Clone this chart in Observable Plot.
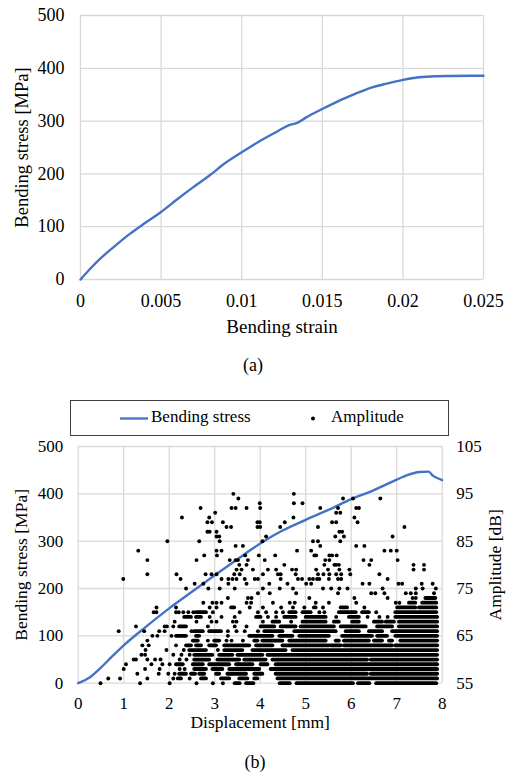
<!DOCTYPE html>
<html><head><meta charset="utf-8">
<script src="https://cdn.jsdelivr.net/npm/d3@7"></script>
<script src="https://cdn.jsdelivr.net/npm/@observablehq/plot@0.6"></script>
<style>
body{margin:0;background:#fff;}
#page{position:relative;width:507px;height:775px;background:#fff;font-family:"Liberation Serif","Times New Roman",serif;color:#000;}
#page svg, #page svg text, #page svg g{font-family:"Liberation Serif","Times New Roman",serif !important;}
.abs{position:absolute;}
.cap{position:absolute;font-size:18px;transform:translate(-50%,-50%);white-space:nowrap;}
#legend{position:absolute;left:70px;top:400px;width:377px;height:34px;border:1px solid #404040;font-size:17px;}
</style></head>
<body><div id="page">
<div id="chartA" class="abs" style="left:0;top:0"></div>
<div class="cap" style="left:253px;top:365px">(a)</div>
<div id="legend">
  <svg width="377" height="34" style="position:absolute;left:0;top:0">
    <line x1="49" x2="77" y1="17.5" y2="17.5" stroke="#4472C4" stroke-width="2.3"/>
    <circle cx="242" cy="17.5" r="2" fill="#000"/>
  </svg>
  <span class="abs" style="left:80px;top:6px">Bending stress</span>
  <span class="abs" style="left:260px;top:6px">Amplitude</span>
</div>
<div id="chartB1" class="abs" style="left:0;top:440px"></div>
<div id="chartB2" class="abs" style="left:0;top:440px"></div>
<div class="cap" style="left:255px;top:762px">(b)</div>
</div>
<script>
// ---------- (a) Bending stress vs bending strain ----------
const strainValues = [0, 0.0005, 0.001, 0.002, 0.003, 0.004, 0.005, 0.006, 0.007, 0.008, 0.009, 0.010, 0.011, 0.012, 0.013, 0.0134, 0.014, 0.015, 0.016, 0.017, 0.018, 0.019, 0.020, 0.021, 0.022, 0.023, 0.025];
const stressValuesA = [0, 17, 33, 60, 85, 107, 128, 152, 175, 197, 221, 241, 260, 277, 293, 296, 307, 323, 338, 351, 363, 371, 378, 383, 385, 385.5, 386];
const strainTicks = [0, 0.005, 0.01, 0.015, 0.02, 0.025];
const strainTickLabels = ["0", "0.005", "0.01", "0.015", "0.02", "0.025"];
const stressTicks = [0, 100, 200, 300, 400, 500];

// ---------- (b) Bending stress vs displacement ----------
const dispValues = [0, 0.25, 0.5, 0.75, 1.0, 1.5, 2.0, 2.5, 3.0, 3.5, 4.0, 4.5, 5.0, 5.5, 6.0, 6.5, 6.75, 7.0, 7.25, 7.5, 7.7, 7.8, 7.9, 8.0];
const stressValuesB = [0, 12, 33, 57, 80, 120, 158, 193, 228, 262, 295, 323, 345, 366, 389, 408, 419, 430, 440, 446, 447, 438, 433, 429];
const dispTicks = [0, 1, 2, 3, 4, 5, 6, 7, 8];
const ampTicks = [55, 65, 75, 85, 95, 105];

// AE amplitude hits: [amplitude dB, displacement positions (single hits) or runs "start-end" of contiguous hits]
const ampRows = [
  [55, "0.49 1.36 2.01 2.60 2.96 3.18 3.45-3.56 3.70-3.86 4.44-4.66 4.81-6.05 6.16-6.41 6.56-7.88"],
  [56, "0.66 0.92 1.52 2.09 2.20-2.27 2.45 2.71-2.82 3.15-3.33 3.55-3.73 3.88-3.95 4.39-7.90"],
  [57, "1.30 1.77 1.98 2.12 2.23-2.38 2.49-2.58 2.67-2.78 3.04-3.11 3.29-3.70 3.88-4.06 4.35-6.36 6.44-7.90"],
  [58, "1.00 1.47 1.79 2.23 2.34 2.56-2.82 2.96-3.18 3.33-3.99 4.24-7.90"],
  [59, "1.05 1.61 1.85 2.01 2.16-2.31 2.53-2.75 2.89-3.33 3.48-3.84 4.02-4.17 4.35-7.90"],
  [60, "1.22 1.27 1.52 1.69 1.81 2.23 2.38 2.56-2.89 3.07-3.55 3.66-4.13 4.28-6.36 6.44-7.90"],
  [61, "1.39 1.47 2.09 2.27 2.45 2.56-2.96 3.11-3.40 3.51-4.06 4.17-7.90"],
  [62, "1.48 1.94 2.32 2.45-2.82 3.07 3.22-3.62 3.84-4.57 4.72-7.90"],
  [63, "1.41 1.55 2.15 2.38-2.49 2.60-2.71 2.89-3.04 3.22-3.77 3.92-4.28 4.50-5.52 5.56-5.78 5.85-6.91 6.98-7.90"],
  [64, "1.52 2.53-2.64 2.85 3.00-3.11 3.26 3.37 3.62 3.88-3.95 4.06-4.50 4.65-5.45 5.67-5.74 5.85-6.40 6.51-6.69 6.84-6.91 7.09-7.90"],
  [65, "1.63 1.74 2.05 2.16-2.38 2.60-2.67 3.29 3.77-4.28 4.43-4.72 4.87-5.52 5.81-6.47 6.58-6.80 6.98-7.90"],
  [66, "0.89 1.45 1.78 1.90 2.49 2.56-2.75 2.89-3.15 3.29 3.48 3.66 3.95 4.10-4.50 4.76-5.67 5.89-6.18 6.40-6.69 6.91-7.90"],
  [67, "1.27 1.90 1.95 2.09 2.23-2.38 2.85 3.44 3.70 4.02-4.32 4.46-4.79 4.90-5.63 5.78-6.33 6.58-6.91 7.06-7.90"],
  [68, "2.12 2.60 2.93 3.04 3.40 3.48 4.06 4.28-4.43 4.68 4.94-5.45 5.63-5.74 6.03-6.18 6.51-6.69 6.77-6.95 7.06-7.90"],
  [69, "2.34-2.49 2.60-2.71 2.89 3.15 3.44 3.92-4.02 4.17 4.35 4.54-4.79 5.01-5.45 5.67 5.96-6.18 6.36 6.62 6.80 6.98-7.90"],
  [70, "1.66 1.72 2.15 2.21 2.31 2.42 2.53 2.60-2.82 2.96 3.55 3.95 4.13 4.35 4.50 4.65-4.79 4.94-5.12 5.30 5.41 5.74-6.11 6.25-6.40 6.55 6.98-7.88"],
  [71, "1.72 2.15 2.89 3.04 3.37-3.44 3.77 4.06 4.46 4.72 4.97 5.19-5.23 5.38 5.78-5.92 6.29 7.02-7.42 7.50-7.88"],
  [72, "2.75 2.95 3.04 3.15 3.70 3.80 4.28 4.65 4.76 5.22 5.51 6.11 6.98 7.06 7.28-7.42 7.57-7.88"],
  [73, "3.29 3.73 3.81 5.08 6.07 6.80 7.35 7.42 7.64-7.86"],
  [74, "3.95 4.21 4.79 5.71 6.44 6.53 6.73 7.20 7.31 7.42 7.82"],
  [75, "2.37 2.86 3.11 3.44 4.06 4.43 4.72 5.38 5.56 5.74 5.92 6.69 7.42 7.57 7.86"],
  [76, "2.56 2.75 3.30 3.70 4.20 4.60 5.01 5.12 6.25 6.40 7.04 7.12 7.55 7.79"],
  [77, "0.99 2.25 3.15 3.30 3.39 3.48 3.66 3.88 3.95 4.45 4.83 4.92 5.08 5.16 5.25 5.30 5.51 5.71 5.78 6.80"],
  [78, "1.52 2.16 2.80 2.93 3.04 3.43 3.55 4.06 4.39 4.45 4.78 5.27 5.39 5.52 5.67 5.78 5.98 6.62"],
  [79, "3.48 3.59 3.84 4.17 4.35 4.70 4.79 5.23 5.49 5.74 5.96 7.37 7.60"],
  [80, "3.54 3.70 4.53 5.41 5.63 5.67 5.73 6.40 7.37 7.60"],
  [81, "1.52 2.60 3.33 3.46 3.51 3.73 4.10 5.43 5.52 6.27 6.44 7.02"],
  [82, "2.77 3.05 3.67 3.97 4.33 5.19 5.23 5.52 5.58 5.68"],
  [83, "1.32 3.04 3.15 4.81 5.12 6.73 6.87 7.00"],
  [84, "3.46 3.62 5.32 6.11 6.29"],
  [85, "1.96 2.66 3.11 4.05 5.16 5.27 5.76"],
  [86, "3.04 3.10 4.13 5.65 5.84 6.91"],
  [87, "2.84 2.89 3.04 5.74 5.80"],
  [88, "3.26 3.36 3.94 4.00 4.44 5.27 7.17"],
  [89, "2.84 2.94 3.18 3.94 3.99 4.54 5.58 5.67 6.14"],
  [90, "2.28 2.88 4.73 6.07"],
  [91, "3.01 5.67 5.76"],
  [92, "2.69 3.37 3.46 3.70 4.00 5.32 5.71 6.11 6.17"],
  [93, "3.99 4.74 4.93"],
  [94, "3.52 5.82 6.04 6.64"],
  [95, "3.41 4.74"]
];

const FONT = '"Liberation Serif","Times New Roman",serif';
const BLUE = "#4472C4";
const GRID = "#d9d9d9";

const lineA = strainValues.map((s, i) => ({s, v: stressValuesA[i]}));
const lineB = dispValues.map((d, i) => ({d, v: stressValuesB[i]}));
const hits = [], runs = [];
for (const [a, str] of ampRows) {
  for (const tok of str.trim().split(/\s+/)) {
    if (tok.includes("-")) { const [x1, x2] = tok.split("-").map(Number); runs.push({a, x1, x2}); }
    else hits.push({a, d: +tok});
  }
}

const chartA = Plot.plot({
  width: 507, height: 345,
  marginLeft: 80, marginRight: 24, marginTop: 15, marginBottom: 66,
  style: {fontFamily: FONT, fontSize: "18px", color: "#000", background: "transparent", overflow: "visible"},
  x: {domain: [0, 0.025]},
  y: {domain: [0, 500]},
  marks: [
    Plot.gridX(strainTicks, {stroke: GRID, strokeOpacity: 1, strokeWidth: 1.3}),
    Plot.gridY(stressTicks, {stroke: GRID, strokeOpacity: 1, strokeWidth: 1.3}),
    Plot.axisX(strainTicks, {tickSize: 0, tickPadding: 15, label: null, fontFamily: FONT, tickFormat: d => strainTickLabels[strainTicks.indexOf(d)]}),
    Plot.axisY(stressTicks, {tickSize: 0, tickPadding: 16, label: null, fontFamily: FONT}),
    Plot.line(lineA, {x: "s", y: "v", stroke: BLUE, strokeWidth: 2.4, curve: "monotone-x"}),
    Plot.text(["Bending strain"], {frameAnchor: "bottom", textAnchor: "middle", dy: 53, fontSize: 19, fontFamily: FONT}),
    Plot.text(["Bending stress [MPa]"], {frameAnchor: "left", textAnchor: "middle", dx: -58, rotate: -90, fontSize: 18.5, fontFamily: FONT})
  ]
});
document.getElementById("chartA").append(chartA);

const dimsB = {width: 507, height: 300, marginLeft: 77.7, marginRight: 65.3, marginTop: 6, marginBottom: 57.3};

const chartB1 = Plot.plot({
  ...dimsB,
  style: {fontFamily: FONT, fontSize: "17px", color: "#000", background: "transparent", overflow: "visible"},
  x: {domain: [0, 8]},
  y: {domain: [0, 500]},
  marks: [
    Plot.gridX(dispTicks, {stroke: GRID, strokeOpacity: 1, strokeWidth: 1.3}),
    Plot.gridY(stressTicks, {stroke: GRID, strokeOpacity: 1, strokeWidth: 1.3}),
    Plot.axisX(dispTicks, {tickSize: 0, tickPadding: 14, label: null, fontFamily: FONT}),
    Plot.axisY(stressTicks, {tickSize: 0, tickPadding: 15, label: null, fontFamily: FONT}),
    Plot.line(lineB, {x: "d", y: "v", stroke: BLUE, strokeWidth: 2.4, curve: "monotone-x"}),
    Plot.text(["Displacement [mm]"], {frameAnchor: "bottom", textAnchor: "middle", dy: 45, fontSize: 17.5, fontFamily: FONT}),
    Plot.text(["Bending stress [MPa]"], {frameAnchor: "left", textAnchor: "middle", dx: -57, rotate: -90, fontSize: 17.5, fontFamily: FONT})
  ]
});
document.getElementById("chartB1").append(chartB1);

const chartB2 = Plot.plot({
  ...dimsB,
  style: {fontFamily: FONT, fontSize: "17px", color: "#000", background: "transparent", overflow: "visible"},
  x: {domain: [0, 8], axis: null},
  y: {domain: [55, 105], axis: null},
  marks: [
    Plot.ruleY(runs, {y: "a", x1: "x1", x2: "x2", stroke: "#000", strokeWidth: 3.8, strokeLinecap: "round"}),
    Plot.dot(hits, {x: "d", y: "a", r: 1.95, fill: "#000", stroke: "none"}),
    Plot.axisY(ampTicks, {anchor: "right", tickSize: 0, tickPadding: 14, label: null, fontFamily: FONT}),
    Plot.text(["Amplitude [dB]"], {frameAnchor: "right", textAnchor: "middle", dx: 53, rotate: -90, fontSize: 17.5, fontFamily: FONT})
  ]
});
document.getElementById("chartB2").append(chartB2);
</script>
</body></html>
